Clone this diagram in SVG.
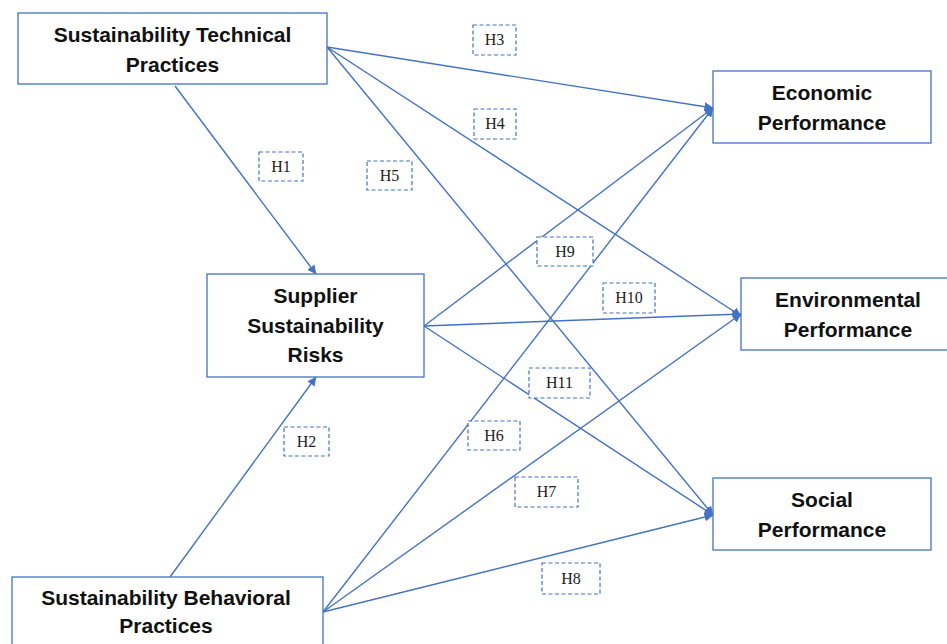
<svg xmlns="http://www.w3.org/2000/svg" width="947" height="644" viewBox="0 0 947 644">
  <style>
    .box { fill: #ffffff; stroke: #4472C4; stroke-width: 1.3; }
    .title { font-family: "Liberation Sans", Arial, sans-serif; font-weight: bold; font-size: 21px; fill: #111111; text-anchor: middle; }
    .edge { stroke: #4472C4; stroke-width: 1.4; fill: none; marker-end: url(#arrow); }
    .tag rect { fill: #ffffff; stroke: #4472C4; stroke-width: 1.2; stroke-dasharray: 4 2.5; }
    .tag text { font-family: "Liberation Serif", "Times New Roman", serif; font-size: 16px; fill: #222222; text-anchor: middle; }
  </style>
  <defs>
    <marker id="arrow" viewBox="0 0 10 10" refX="9.5" refY="5" markerWidth="9" markerHeight="9" markerUnits="userSpaceOnUse" orient="auto">
      <path d="M0,0 L10,5 L0,10 Z" fill="#4472C4"/>
    </marker>
  </defs>
  <rect width="947" height="644" fill="#ffffff"/>

  <!-- connectors -->
  <g id="connectors">
    <line class="edge" x1="175" y1="86" x2="316" y2="274"/>
    <line class="edge" x1="170" y1="577" x2="316" y2="377"/>
    <line class="edge" x1="327" y1="47" x2="713" y2="108"/>
    <line class="edge" x1="327" y1="47" x2="741" y2="316"/>
    <line class="edge" x1="327" y1="47" x2="713" y2="515"/>
    <line class="edge" x1="323" y1="612" x2="713" y2="108"/>
    <line class="edge" x1="323" y1="612" x2="741" y2="314"/>
    <line class="edge" x1="323" y1="612" x2="713" y2="515"/>
    <line class="edge" x1="424" y1="326" x2="713" y2="108"/>
    <line class="edge" x1="424" y1="326" x2="741" y2="314"/>
    <line class="edge" x1="424" y1="326" x2="713" y2="515"/>
  </g>

  <!-- hypothesis tags -->
  <g id="tags">
    <g class="tag"><rect x="259" y="152" width="44" height="29"/><text x="281" y="172">H1</text></g>
    <g class="tag"><rect x="284" y="427" width="45" height="29"/><text x="306.5" y="447">H2</text></g>
    <g class="tag"><rect x="473" y="25" width="43" height="30"/><text x="494.5" y="45">H3</text></g>
    <g class="tag"><rect x="474" y="109" width="42" height="30"/><text x="495" y="129">H4</text></g>
    <g class="tag"><rect x="367" y="161" width="45" height="29"/><text x="389.5" y="181">H5</text></g>
    <g class="tag"><rect x="468" y="421" width="52" height="29"/><text x="494" y="441">H6</text></g>
    <g class="tag"><rect x="515" y="477" width="63" height="30"/><text x="546.5" y="497">H7</text></g>
    <g class="tag"><rect x="542" y="563" width="58" height="31"/><text x="571" y="584">H8</text></g>
    <g class="tag"><rect x="537" y="237" width="56" height="29"/><text x="565" y="257">H9</text></g>
    <g class="tag"><rect x="603" y="283" width="52" height="30"/><text x="629" y="303">H10</text></g>
    <g class="tag"><rect x="529" y="368" width="61" height="30"/><text x="559.5" y="388">H11</text></g>
  </g>

  <!-- nodes -->
  <g id="technical-practices">
    <rect class="box" x="18" y="13" width="309" height="71"/>
    <text class="title" x="172.5" y="42">Sustainability Technical</text>
    <text class="title" x="172.5" y="72">Practices</text>
  </g>
  <g id="supplier-risks">
    <rect class="box" x="207" y="274" width="217" height="103"/>
    <text class="title" x="315.5" y="303">Supplier</text>
    <text class="title" x="315.5" y="333">Sustainability</text>
    <text class="title" x="315.5" y="362">Risks</text>
  </g>
  <g id="behavioral-practices">
    <rect class="box" x="12" y="577" width="311" height="80"/>
    <text class="title" x="166" y="605">Sustainability Behavioral</text>
    <text class="title" x="166" y="633">Practices</text>
  </g>
  <g id="economic-performance">
    <rect class="box" x="713" y="71" width="218" height="72"/>
    <text class="title" x="822" y="100">Economic</text>
    <text class="title" x="822" y="130">Performance</text>
  </g>
  <g id="environmental-performance">
    <rect class="box" x="741" y="278" width="214" height="72"/>
    <text class="title" x="848" y="307">Environmental</text>
    <text class="title" x="848" y="337">Performance</text>
  </g>
  <g id="social-performance">
    <rect class="box" x="713" y="478" width="218" height="72"/>
    <text class="title" x="822" y="507">Social</text>
    <text class="title" x="822" y="537">Performance</text>
  </g>
</svg>
